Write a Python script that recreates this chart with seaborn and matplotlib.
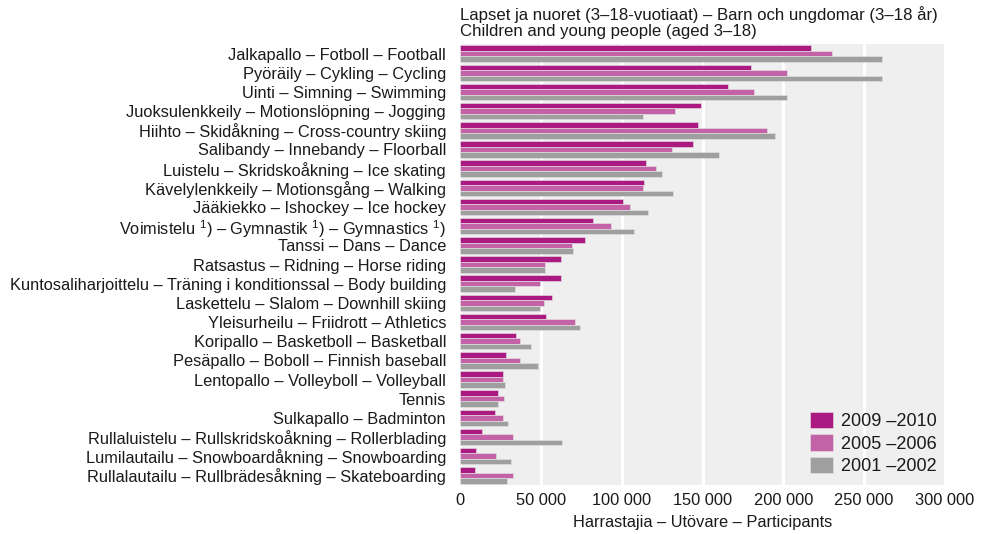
import numpy as np
import pandas as pd
import matplotlib
matplotlib.use("Agg")
import matplotlib.pyplot as plt
import seaborn as sns
from matplotlib.ticker import FuncFormatter

# ---- data ----
sports = [
    "Jalkapallo – Fotboll – Football",
    "Pyöräily – Cykling – Cycling",
    "Uinti – Simning – Swimming",
    "Juoksulenkkeily – Motionslöpning – Jogging",
    "Hiihto – Skidåkning – Cross-country skiing",
    "Salibandy – Innebandy – Floorball",
    "Luistelu – Skridskoåkning – Ice skating",
    "Kävelylenkkeily – Motionsgång – Walking",
    "Jääkiekko – Ishockey – Ice hockey",
    "Voimistelu $^{1}$) – Gymnastik $^{1}$) – Gymnastics $^{1}$)",
    "Tanssi – Dans – Dance",
    "Ratsastus – Ridning – Horse riding",
    "Kuntosaliharjoittelu – Träning i konditionssal – Body building",
    "Laskettelu – Slalom – Downhill skiing",
    "Yleisurheilu – Friidrott – Athletics",
    "Koripallo – Basketboll – Basketball",
    "Pesäpallo – Boboll – Finnish baseball",
    "Lentopallo – Volleyboll – Volleyball",
    "Tennis",
    "Sulkapallo – Badminton",
    "Rullaluistelu – Rullskridskoåkning – Rollerblading",
    "Lumilautailu – Snowboardåkning – Snowboarding",
    "Rullalautailu – Rullbrädesåkning – Skateboarding",
]
periods = ["2009 –2010", "2005 –2006", "2001 –2002"]

v_2009 = [217000, 180000, 166000, 149000, 147000, 144000, 115000, 114000, 101000,
          82500, 77600, 62600, 62600, 56600, 53500, 34600, 28400, 26500, 23500,
          21600, 13800, 9900, 9300]
v_2005 = [230000, 202000, 182000, 133000, 190000, 131000, 121000, 113000, 105000,
          93600, 69000, 52500, 49200, 51900, 71400, 37000, 37000, 26500, 27000,
          26300, 32500, 22400, 32500]
v_2001 = [261000, 261000, 202000, 113000, 195000, 160000, 125000, 132000, 116000,
          107600, 69600, 52500, 34000, 49400, 74500, 44000, 48000, 27600, 23500,
          29400, 63200, 31500, 29000]

colors = ["#AA1A80", "#C462A8", "#9F9F9F"]

df = pd.DataFrame({
    "sport": sports * 3,
    "period": [periods[0]] * len(sports) + [periods[1]] * len(sports) + [periods[2]] * len(sports),
    "value": v_2009 + v_2005 + v_2001,
})

# ---- plot ----
sns.set_style("white")
plt.rcParams['font.family'] = ['Liberation Sans', 'DejaVu Sans']
plt.rcParams['mathtext.fontset'] = 'custom'
plt.rcParams['mathtext.rm'] = 'Liberation Sans'
plt.rcParams['mathtext.it'] = 'Liberation Sans'

fig = plt.figure(figsize=(9.84, 5.34), dpi=100)
ax = fig.add_axes([460 / 984, 1 - 485 / 534, 485 / 984, 441 / 534])
ax.set_facecolor("#EFEFEF")

sns.barplot(data=df, y="sport", x="value", hue="period", order=sports,
            hue_order=periods, palette=colors, saturation=1, orient="h", width=0.86,
            edgecolor="#E6E6E6", linewidth=0.4, ax=ax, zorder=3)

ax.set_xlim(0, 300000)
ax.set_xticks(np.arange(0, 300001, 50000))
ax.xaxis.set_major_formatter(FuncFormatter(lambda v, p: f"{int(v):,}".replace(",", " ")))
ax.grid(axis="x", color="white", linewidth=2.2, zorder=1)
ax.set_axisbelow(True)
for s in ax.spines.values():
    s.set_visible(False)
ax.tick_params(axis="both", length=0, labelsize=11.8, colors="#1a1a1a")
ax.tick_params(axis="y", pad=10)
ax.tick_params(axis="x", pad=6)
ax.set_ylabel("")
ax.set_xlabel("Harrastajia – Utövare – Participants", fontsize=11.8, color="#1a1a1a", labelpad=5)

leg = ax.legend(loc="lower right", frameon=False, fontsize=13, handlelength=1.25,
                handleheight=1.0, handletextpad=0.45, labelspacing=0.22,
                bbox_to_anchor=(1.016, -0.014))
for t in leg.get_texts():
    t.set_color("#1a1a1a")

fig.text(460 / 984, 1 - 6 / 534,
         "Lapset ja nuoret (3–18-vuotiaat) – Barn och ungdomar (3–18 år)\nChildren and young people (aged 3–18)",
         ha="left", va="top", fontsize=12.1, color="#1a1a1a", linespacing=1.1)

fig.savefig("out.png", dpi=100)
